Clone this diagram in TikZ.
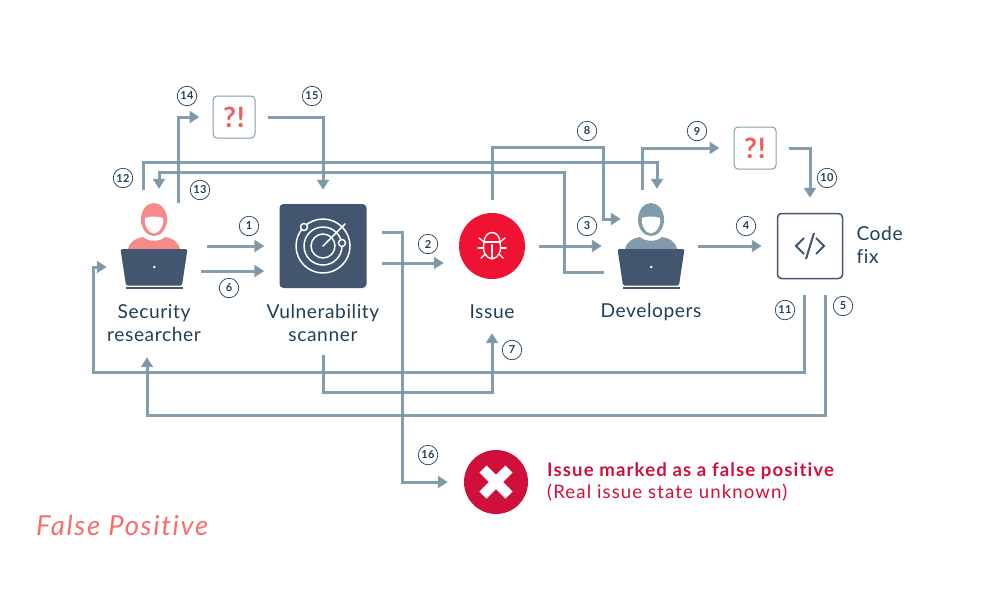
\documentclass[tikz,border=0pt]{standalone}
\usepackage{fontspec}
\setmainfont[LetterSpace=3,Ligatures=NoCommon]{Lato}
\usetikzlibrary{arrows.meta}
\definecolor{flowcol}{HTML}{7793A5}
\definecolor{navy}{HTML}{1F3F5B}
\definecolor{slate}{HTML}{43566F}
\definecolor{salmon}{HTML}{F58A89}
\definecolor{steel}{HTML}{7F9BAC}
\definecolor{bugred}{HTML}{EF1233}
\definecolor{crimson}{HTML}{D0103A}
\definecolor{queryred}{HTML}{F25C5E}
\tikzset{
  flow/.style={draw=flowcol, line width=3pt, opacity=0.9, -{Triangle[length=10pt,width=12pt]}},
  numlabel/.style={circle, draw=navy, line width=0.7pt, minimum size=19.5pt, inner sep=0pt, text=navy, font=\fontsize{11}{11}\selectfont\bfseries},
  caption/.style={text=navy, align=center, font=\fontsize{19.2}{22.5}\selectfont},
  iconbox/.style={minimum width=68pt, minimum height=84pt, inner sep=0pt},
  querybox/.style={draw=steel, line width=1pt, rounded corners=4pt, minimum size=42pt, inner sep=0pt, text=queryred, font=\fontsize{28}{28}\selectfont\bfseries},
  pics/person/.style={code={
    % head
    \fill[#1] (0,-26.5) ellipse (13 and 16.5);
    \fill[white] (-9,-28) .. controls (-5,-30) and (5,-30) .. (9,-28) .. controls (10.5,-21) and (5,-12.5) .. (0,-12.5) .. controls (-5,-12.5) and (-10.5,-21) .. (-9,-28) -- cycle;
    % shoulders
    \fill[#1] (-26,3) .. controls (-24,-5) and (-18,-8) .. (-11,-9) .. controls (-6,-4) and (6,-4) .. (11,-9) .. controls (18,-8) and (24,-5) .. (26,3) -- cycle;
    % laptop
    \fill[slate, rounded corners=1.5pt] (-33.5,3) -- (33.5,3) -- (28,39.5) -- (-28,39.5) -- cycle;
    \fill[slate] (-28,40.5) rectangle (29,43);
    \fill[white] (0.3,21) circle (1.4);
  }}
}
\begin{document}
\begin{tikzpicture}[x=1pt, y=-1pt]
\useasboundingbox (0,0) rectangle (1000,600);

% Main icons
\node[iconbox] (researcher) at (154,246) {};
\pic at (154,246) {person=salmon};
\node[iconbox] (developer) at (651,246) {};
\pic at (651,246) {person=steel};
\node[fill=slate, rounded corners=4pt, minimum width=87pt, minimum height=84pt, inner sep=0pt] (scanner) at (323,246) {};
\node[circle, fill=bugred, minimum size=66pt, inner sep=0pt] (issue) at (492,246) {};
\node[draw=slate, line width=1.5pt, rounded corners=4pt, minimum size=65pt, inner sep=0pt] (code) at (810,246) {};
\node[querybox] (queryA) at (234,117) {?!};
\node[querybox] (queryB) at (755,148) {?!};
\node[circle, fill=crimson, minimum size=64pt, inner sep=0pt] (falsepos) at (496,482) {};

% Radar
\draw[white, line width=1.5pt] (323,246) circle (27) circle (19) circle (12);
\draw[white, line width=1.5pt, line cap=round] (323,246) -- (345,224);
\foreach \x/\y in {304/227, 342/243} {
    \draw[white, fill=slate, line width=1.5pt] (\x,\y) circle (3.5);
}

% Bug
\begin{scope}[shift={(492,246)}, white, line width=1.4pt, line cap=round]
\draw (-8,-3) .. controls (-8,-17) and (8,-17) .. (8,-3) .. controls (10,6) and (6,12) .. (0,13) .. controls (-6,12) and (-10,6) .. (-8,-3) -- cycle;
\draw (-8,-4) -- (8,-4);
\draw (0,-1) -- (0,12);
\draw (-14,2) -- (-9,2);
\draw (9,2) -- (14,2);
\draw (-8,-4) -- (-13,-8);
\draw (8,-4) -- (13,-8);
\draw (-7,8) -- (-11,12);
\draw (7,8) -- (11,12);
\end{scope}

% Code sign
\draw[slate, line width=2pt] (804,238) -- (796,246) -- (804,254);
\draw[slate, line width=2pt] (816,238) -- (824,246) -- (816,254);
\draw[slate, line width=2pt] (814,233) -- (806,259);

% Cross
\draw[white, line width=10pt] (483,469) -- (509,495);
\draw[white, line width=10pt] (509,469) -- (483,495);

% Captions
\node[caption] (researcherlabel) at (154,323) {Security\\researcher};
\node[caption] (scannerlabel) at (323,323) {Vulnerability\\scanner};
\node[caption] (issuelabel) at (492,312) {Issue};
\node[caption] (developerlabel) at (651,312) {Developers};
\node[caption, align=left, anchor=west] (codelabel) at (853,245) {Code\\fix};
\node[anchor=west, align=left, text=crimson, inner sep=0pt, font=\addfontfeature{LetterSpace=6}\fontsize{18.6}{22}\selectfont] (falselabel) at (547,482) {\textbf{Issue marked as a false positive}\\(Real issue state unknown)};
\node[anchor=west, inner sep=0pt, text=salmon!80!red, font=\addfontfeature{LetterSpace=6}\fontsize{27.5}{27}\selectfont\itshape] (title) at (36,525) {False Positive};

% Flows
\draw[flow] ([shift={(19,0)}]researcher.east) -- ([shift={(-15,0)}]scanner.west);
\draw[flow] ([shift={(13,25)}]researcher.east) -- ([shift={(-15,25)}]scanner.west);
\draw[flow] ([shift={(15,17)}]scanner.east) -- ([shift={(-15,17)}]issue.west);
\draw[flow] ([shift={(14,0)}]issue.east) -- ([shift={(-15,0)}]developer.west);
\draw[flow] ([shift={(13,0)}]developer.east) -- ([shift={(-15,0)}]code.west);
\draw[flow] ([shift={(15,16)}]code.south) -- ++(0,120) -| ([shift={(-7,69)}]researcher.south);
\draw[flow] ([shift={(0,67)}]scanner.south) -- ++(0,37) -| ([shift={(0,54)}]issue.south);
\draw[flow] ([shift={(0,-13)}]issue.north) -- ++(0,-52) -- ++(111,0) |- ([shift={(4,-27)}]developer.west);
\draw[flow] ([shift={(-9,-14)}]developer.north) |- ([shift={(-14,0)}]queryB.west);
\draw[flow] ([shift={(12,0)}]queryB.east) -| ([shift={(0,-15)}]code.north);
\draw[flow] ([shift={(-6,16)}]code.south) -- ++(0,77) -- ++(-711,0) |- ([shift={(-13,21)}]researcher.west);
\draw[flow] ([shift={(-11,-14)}]researcher.north) -- ++(0,-27) -| ([shift={(6,-15)}]developer.north);
\draw[flow] ([shift={(-13,26)}]developer.west) -- ++(-39,0) -- ++(0,-100) -| ([shift={(5,-15)}]researcher.north);
\draw[flow] ([shift={(24,-1)}]researcher.north) |- ([shift={(-13,0)}]queryA.west);
\draw[flow] ([shift={(12,0)}]queryA.east) -| ([shift={(0,-14)}]scanner.north);
\draw[flow] ([shift={(15,-14)}]scanner.east) -- ++(21,0) |- ([shift={(-16,0)}]falsepos.west);

% Step numbers
\foreach \n/\x/\y in {1/249/226, 2/428/244, 3/587/226, 4/746/226, 5/843/306, 6/229/288, 7/512/350, 8/587/131, 9/697/131, 10/827/178, 11/785/310, 12/123/178, 13/200/190, 14/187/96, 15/312/96, 16/428/455} {
    \node[numlabel] (num\n) at (\x,\y) {\n};
}
\end{tikzpicture}
\end{document}
